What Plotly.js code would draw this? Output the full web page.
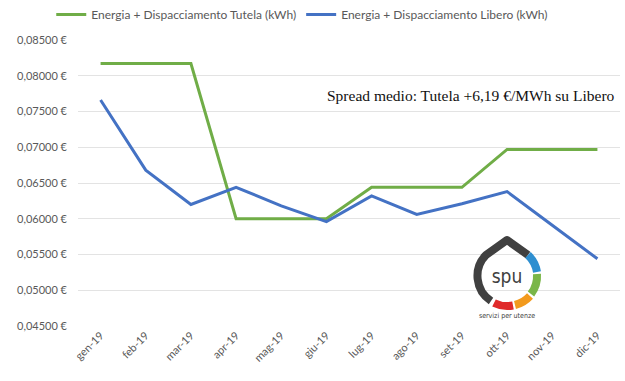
<!DOCTYPE html>
<html><head><meta charset="utf-8">
<script src="https://cdn.plot.ly/plotly-3.0.1.min.js"></script>
<style>html,body{margin:0;padding:0;background:#fff}#wrap{position:relative;width:625px;height:381px}#chart{width:625px;height:381px}#logo{position:absolute;left:0;top:0;pointer-events:none}</style>
</head><body>
<div id="wrap"><div id="chart"></div>
<svg id="logo" width="625" height="381">
  <g transform="translate(507,276)">
    <path d="M -16 25 A 30 30 0 0 1 -21 -21 L 0 -36 L 21 -21" fill="none" stroke="#404040" stroke-width="8" stroke-linejoin="round"/>
    <path d="M 21 -21 A 30 30 0 0 1 30 -4" fill="none" stroke="#2e8fd0" stroke-width="8"/>
    <path d="M 30 -2 A 30 30 0 0 1 24 18" fill="none" stroke="#7ab648" stroke-width="8"/>
    <path d="M 23 20 A 30 30 0 0 1 8 29" fill="none" stroke="#f29a1d" stroke-width="8"/>
    <path d="M 6 29.5 A 30 30 0 0 1 -13 27" fill="none" stroke="#e02a2a" stroke-width="8"/>
    <text x="0" y="7" text-anchor="middle" font-family="Liberation Sans Narrow, DejaVu Sans Condensed, sans-serif" font-size="19" fill="#404040">spu</text>
    <text x="0" y="42" text-anchor="middle" font-family="DejaVu Sans Condensed, sans-serif" font-size="7" fill="#404040">servizi per utenze</text>
  </g>
</svg>
</div>
<script>
const months = ["gen-19","feb-19","mar-19","apr-19","mag-19","giu-19","lug-19","ago-19","set-19","ott-19","nov-19","dic-19"];
const tutela = [0.0817,0.0817,0.0817,0.0600,0.0600,0.0600,0.0644,0.0644,0.0644,0.0697,0.0697,0.0697];
const libero = [0.0766,0.0668,0.0620,0.0644,0.0618,0.0596,0.0632,0.0606,0.0621,0.0638,0.0591,0.0544];
const seriesNames = ["Energia + Dispacciamento Tutela (kWh)","Energia + Dispacciamento Libero (kWh)"];
const annotationText = "Spread medio: Tutela +6,19 €/MWh su Libero";

const font = "Lato, 'Open Sans', sans-serif";
const data = [
  {x: months, y: tutela, name: seriesNames[0], type: "scatter", mode: "lines",
   line: {color: "#70ad47", width: 3}},
  {x: months, y: libero, name: seriesNames[1], type: "scatter", mode: "lines",
   line: {color: "#4472c4", width: 3}}
];
const layout = {
  width: 625, height: 381,
  margin: {l: 78, r: 5, t: 40, b: 55},
  paper_bgcolor: "#fff", plot_bgcolor: "#fff",
  separators: ",.",
  font: {family: font, size: 11, color: "#595959"},
  showlegend: true,
  legend: {orientation: "h", xref: "container", x: 0.082, xanchor: "left", yref: "container", y: 1, yanchor: "top",
           font: {family: font, size: 12, color: "#595959"}, itemwidth: 30, tracegroupgap: 0},
  xaxis: {type: "category", range: [-0.5, 11.5], tickangle: -45, showgrid: false, showline: false, zeroline: false,
          ticks: "", tickfont: {family: font, size: 11, color: "#595959"}},
  yaxis: {range: [0.045, 0.085], dtick: 0.005, tick0: 0.045, tickformat: ".5f", ticksuffix: " €",
          showgrid: true, gridcolor: "#e3e3e3", gridwidth: 1, zeroline: false, showline: false,
          ticks: "", ticklabelstandoff: 10, tickfont: {family: font, size: 11, color: "#595959"}},
  annotations: [{text: annotationText, xref: "paper", yref: "paper", x: 0.995, y: 0.805,
                 xanchor: "right", yanchor: "middle", showarrow: false,
                 font: {family: "'Liberation Serif', 'DejaVu Serif', serif", size: 15.5, color: "#111"}}]
};
Plotly.newPlot("chart", data, layout, {displayModeBar: false, staticPlot: true});
</script>
</body></html>
